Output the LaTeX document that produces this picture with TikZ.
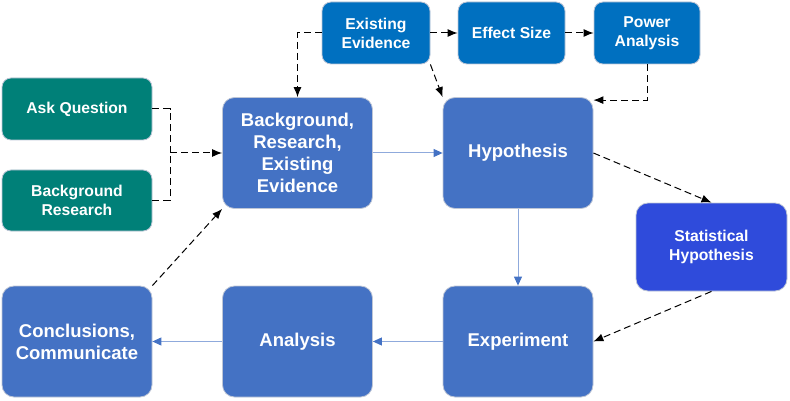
\documentclass[tikz,border=0pt]{standalone}
\usepackage{fontspec}
\setmainfont{Liberation Sans}
\usetikzlibrary{arrows.meta,shapes}
\definecolor{boxblue}{RGB}{68,114,196}
\definecolor{topblue}{RGB}{0,112,192}
\definecolor{statblue}{RGB}{47,75,219}
\definecolor{askteal}{RGB}{0,128,120}
\definecolor{lineblue}{RGB}{143,170,220}
\definecolor{rimgray}{RGB}{190,198,214}
\tikzstyle{stage}=[rectangle,rounded corners=12pt,draw=rimgray,line width=0.8pt,fill=boxblue,text=white,align=center,inner sep=0pt,minimum width=150pt,minimum height=111pt,font=\fontsize{18.5}{22}\selectfont\bfseries]
\tikzstyle{small}=[rectangle,rounded corners=9pt,draw=rimgray,line width=0.8pt,text=white,align=center,inner sep=0pt,minimum height=62pt,font=\fontsize{15.7}{19}\selectfont\bfseries]
\tikzstyle{flow} = [draw=lineblue,line width=1pt,-{Triangle[length=9pt,width=8pt,color=boxblue]}]
\tikzstyle{hint} = [draw,line width=1pt,dash pattern=on 7pt off 4pt]
\tikzstyle{hintarrow} = [hint,-{Latex[length=10pt,width=8pt]}]

\begin{document}
\begin{tikzpicture}[x=1pt,y=-1pt]
    \useasboundingbox (0,0) rectangle (790,401);
    % First the stages of the cycle
    \node[stage] (bre) at (297.5,153) {Background,\\Research,\\Existing\\Evidence};
    \node[stage] (hyp) at (518,153) {Hypothesis};
    \node[stage] (exp) at (518,341.5) {Experiment};
    \node[stage] (ana) at (297.5,341.5) {Analysis};
    \node[stage] (con) at (77,341.5) {Conclusions,\\Communicate};
    % Then the smaller boxes
    \node[small,fill=askteal,minimum width=150pt] (ask) at (77,109) {Ask Question};
    \node[small,fill=askteal,minimum width=150pt,minimum height=61pt] (bgres) at (77,200.5) {Background\\Research};
    \node[small,fill=topblue,minimum width=108pt] (ee) at (376,33) {Existing\\Evidence};
    \node[small,fill=topblue,minimum width=107pt] (es) at (511.5,33) {Effect Size};
    \node[small,fill=topblue,minimum width=106pt] (pa) at (647,33) {Power\\Analysis};
    \node[small,fill=statblue,rounded corners=12pt,minimum width=151pt,minimum height=88pt] (stat) at (711.5,247) {Statistical\\Hypothesis};
    \coordinate (join) at (170,153);
    % Connect the boxes
    \foreach \source/\dest in {bre/hyp, hyp/exp, exp/ana, ana/con}
        \path[flow] (\source) -- (\dest);
    \path[hint] (ask.east) -| (join);
    \path[hint] (bgres.east) -| (join);
    \path[hintarrow] (join) -- (bre.west);
    \path[hintarrow] (ee.west) -| (bre.north);
    \path[hintarrow] (ee.south east) -- (hyp.north west);
    \path[hintarrow] (pa.south) |- ([yshift=-3pt]hyp.north east);
    \foreach \source/\dest in {ee/es, es/pa}
        \path[hintarrow] (\source) -- (\dest);
    \path[hintarrow] (hyp.east) -- (stat.north);
    \path[hintarrow] (stat.south) -- (exp.east);
    \path[hintarrow] (con.north east) -- (bre.south west);
\end{tikzpicture}
\end{document}
